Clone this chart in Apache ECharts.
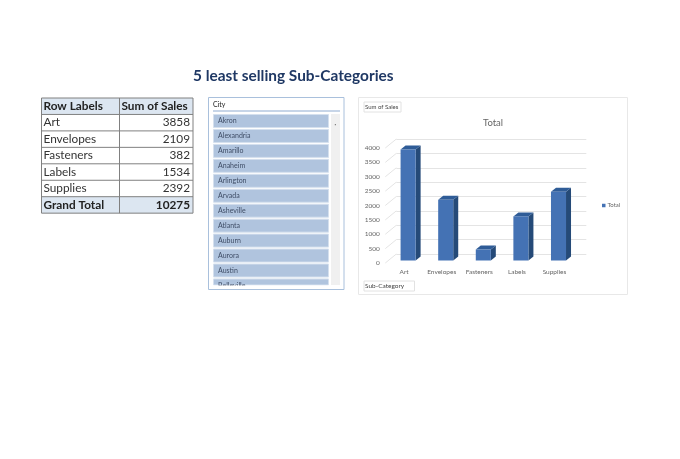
<!DOCTYPE html>
<html><head><meta charset="utf-8">
<style>html,body{margin:0;padding:0;background:#fff}#c{width:680px;height:459px}</style>
<script src="https://cdn.jsdelivr.net/npm/echarts@6/dist/echarts.min.js"></script>
</head><body><div id="c"></div>
<script>
const titleText = '5 least selling Sub-Categories';
const categories = ['Art','Envelopes','Fasteners','Labels','Supplies'];
const sales = [3858,2109,382,1534,2392];
const grandTotal = 10275;
const tableHeaders = ['Row Labels','Sum of Sales'];
const cities = ['Akron','Alexandria','Amarillo','Anaheim','Arlington','Arvada','Asheville','Atlanta','Auburn','Aurora','Austin','Belleville'];
const yTicks = [0,500,1000,1500,2000,2500,3000,3500,4000];

const chart = echarts.init(document.getElementById('c'), null, {renderer:'canvas'});
const F = 'Lato, "Open Sans", sans-serif';
const g = [];
const rect = (x,y,w,h,fill,stroke,z,lw)=>g.push({type:'rect',silent:true,z:z||1,shape:{x,y,width:w,height:h},style:{fill:fill||'transparent',stroke:stroke||null,lineWidth:lw||1}});
const txt = (x,y,t,o)=>g.push({type:'text',silent:true,z:(o&&o.z)||3,x,y,style:Object.assign({text:t,fill:'#333',font:'12px '+F,textAlign:'left',textVerticalAlign:'middle'},o||{})});
const line=(x1,y1,x2,y2,c,z)=>g.push({type:'line',silent:true,z:z||2,shape:{x1,y1,x2,y2},style:{stroke:c,lineWidth:1}});

// title
txt(193,76,titleText,{font:'bold 15.4px '+F,fill:'#1f3864'});

// pivot table
const tx0=41.5,tx1=119.5,tx2=193,ty0=98,rh=16.45;
const rows=categories.map((c,i)=>[c,String(sales[i])]);
rect(tx0,ty0,tx2-tx0,rh,'#dce6f1');
rect(tx0,ty0+rh*6,tx2-tx0,rh,'#dce6f1');
for(let i=0;i<=7;i++) line(tx0,ty0+rh*i,tx2,ty0+rh*i,'#808080');
line(tx0,ty0,tx0,ty0+rh*7,'#808080');line(tx1,ty0,tx1,ty0+rh*7,'#808080');line(tx2,ty0,tx2,ty0+rh*7,'#808080');
const tf='11.8px '+F, tb='bold 11.8px '+F;
txt(tx0+2,ty0+rh/2,tableHeaders[0],{font:tb,fill:'#222'});
txt(tx1+2,ty0+rh/2,tableHeaders[1],{font:tb,fill:'#222'});
rows.forEach((r,i)=>{const y=ty0+rh*(i+1.5);
  txt(tx0+2,y,r[0],{font:tf,fill:'#333'});
  txt(tx2-3,y,r[1],{font:tf,fill:'#333',textAlign:'right'});});
txt(tx0+2,ty0+rh*6.5,'Grand Total',{font:tb,fill:'#222'});
txt(tx2-3,ty0+rh*6.5,String(grandTotal),{font:tb,fill:'#222',textAlign:'right'});

// slicer
rect(208.5,97.5,135.5,192,'#fff','#a9c0dc',1);
txt(213,104.5,'City',{font:'7px '+F,fill:'#222'});
line(213,111,340,111,'#8fabd0');
rect(331,114,9,171,'#f0f0f0');
txt(335.5,125,'▪',{font:'4px '+F,fill:'#777',textAlign:'center'});
cities.forEach((c,i)=>{const y=114.5+i*14.95;
  rect(213.5,y,115,Math.min(13,285-y),'#b0c4de','#d5e0ee',1);
  txt(218,y+6.5,c,{font:'7px '+F,fill:'#3f4d66'});});
rect(212,285.5,118,3.5,'#fff',null,4);

// chart frame and field buttons
rect(358.5,97.5,269,197,'transparent','#e8e8e8',0);
rect(364,102,37,10,'#fff','#e2e2e2',1);
txt(365,107,'Sum of Sales',{font:'6px '+F,fill:'#444'});
rect(364,281,50.5,10,'#fff','#e2e2e2',1);
txt(365,286,'Sub-Category',{font:'6.5px '+F,fill:'#444'});

const barOffset=[4,-2.5], depth=[5,-4], wallOffset=[11,-9];
const option={
  animation:false,
  title:{text:'Total',left:488,top:113,textAlign:'center',textStyle:{fontFamily:F,fontSize:9.5,fontWeight:'normal',color:'#666'}},
  legend:{show:true,left:597,top:197.5,icon:'rect',itemWidth:3.5,itemHeight:3.5,itemGap:0,data:['Total'],textStyle:{fontFamily:F,fontSize:6,color:'#666',padding:[0,0,0,-3]}},
  grid:[{left:385.3,top:148,width:188,height:115},{left:396.3,top:139,width:190,height:115}],
  xAxis:[
    {type:'category',gridIndex:0,data:categories,axisLine:{show:false},axisTick:{show:false},axisLabel:{interval:0,hideOverlap:false,fontFamily:F,fontSize:6.5,color:'#666',margin:5}},
    {type:'category',gridIndex:1,data:categories,show:false}
  ],
  yAxis:[
    {type:'value',gridIndex:0,min:0,max:4000,interval:500,axisLine:{show:false},axisTick:{show:false},splitLine:{show:false},axisLabel:{formatter:v=>String(v),fontFamily:F,fontSize:6.5,color:'#666',margin:5.5}},
    {type:'value',gridIndex:1,min:0,max:4000,interval:500,axisLine:{show:false},axisTick:{show:false},axisLabel:{show:false},splitLine:{show:true,lineStyle:{color:'#e4e4e4',width:1}}}
  ],
  series:[
    {name:'wall',type:'custom',xAxisIndex:0,yAxisIndex:0,z:1,silent:true,data:yTicks.map(v=>[v]),encode:{y:0},
     renderItem(params,api){
       const p=api.coord([0,api.value(0)]);const x=385.3;
       return {type:'line',shape:{x1:x,y1:p[1],x2:x+wallOffset[0],y2:p[1]+wallOffset[1]},style:{stroke:'#e4e4e4',lineWidth:1}};
     }},
    {name:'Total',type:'custom',xAxisIndex:0,yAxisIndex:0,z:3,itemStyle:{color:'#4472b4'},
     data:categories.map((c,i)=>[i,sales[i]]),encode:{x:0,y:1},
     renderItem(params,api){
       const top=api.coord([api.value(0),api.value(1)]),base=api.coord([api.value(0),0]);
       const w=api.size([1,0])[0]*0.4;
       const l=top[0]-w/2+barOffset[0],r=l+w,t=top[1]+barOffset[1],b=base[1]+barOffset[1];
       const [dx,dy]=depth;
       return {type:'group',children:[
         {type:'polygon',shape:{points:[[r,t],[r+dx,t+dy],[r+dx,b+dy],[r,b]]},style:{fill:'#254a78'}},
         {type:'polygon',shape:{points:[[l,t],[l+dx,t+dy],[r+dx,t+dy],[r,t]]},style:{fill:'#2f5c97'}},
         {type:'rect',shape:{x:l,y:t,width:w,height:b-t},style:{fill:'#4472b4'}}
       ]};
     }}
  ],
  graphic:{elements:g}
};
chart.setOption(option);
</script></body></html>
